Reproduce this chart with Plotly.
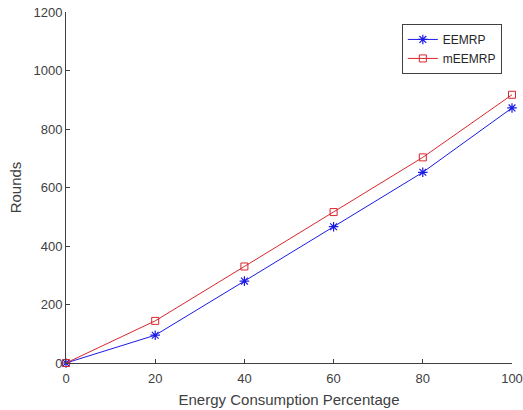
import plotly.graph_objects as go

x_vals = [0, 20, 40, 60, 80, 100]
eemrp = [0, 95, 280, 466, 652, 872]
meemrp = [0, 144, 330, 516, 703, 917]
x_ticks = [0, 20, 40, 60, 80, 100]
y_ticks = [0, 200, 400, 600, 800, 1000, 1200]

fig = go.Figure()
fig.add_trace(go.Scatter(
    x=x_vals, y=eemrp, name="EEMRP", mode="lines+markers",
    line=dict(color="#1a1ae6", width=1),
    marker=dict(symbol="asterisk-open", size=8, color="#1a1ae6", line=dict(color="#1a1ae6", width=1.2)),
    cliponaxis=False,
))
fig.add_trace(go.Scatter(
    x=x_vals, y=meemrp, name="mEEMRP", mode="lines+markers",
    line=dict(color="#d9262c", width=1),
    marker=dict(symbol="square-open", size=7, color="#d9262c", line=dict(color="#d9262c", width=1)),
    cliponaxis=False,
))

font = "Liberation Sans, Arial, sans-serif"
fig.update_layout(
    width=523, height=410,
    margin=dict(l=66, r=11, t=12, b=47),
    paper_bgcolor="white", plot_bgcolor="white",
    font=dict(family=font, size=13, color="#404040"),
    showlegend=True,
    legend=dict(
        x=0.753, y=0.966, xanchor="left", yanchor="top",
        bgcolor="white", bordercolor="#404040", borderwidth=1,
        font=dict(size=12, color="#262626"),
        tracegroupgap=0, itemwidth=30,
    ),
    xaxis=dict(
        range=[0, 100], tickvals=x_ticks, ticks="inside", ticklen=4,
        tickcolor="#404040", showline=True, linecolor="#404040", linewidth=1,
        showgrid=False, zeroline=False, mirror=False, automargin=False,
        ticklabelstandoff=3,
        title=dict(text="Energy Consumption Percentage", font=dict(size=15, color="#404040"), standoff=9),
        tickfont=dict(size=13, color="#404040"),
    ),
    yaxis=dict(
        range=[0, 1200], tickvals=y_ticks, ticks="inside", ticklen=4,
        tickcolor="#404040", showline=True, linecolor="#404040", linewidth=1,
        showgrid=False, zeroline=False, mirror=False, automargin=False,
        title=dict(text="Rounds", font=dict(size=15, color="#404040"), standoff=8),
        tickfont=dict(size=13, color="#404040"),
    ),
)

fig.write_html("out.html", config={"displayModeBar": False},
               post_script="document.body.style.margin='0';")
